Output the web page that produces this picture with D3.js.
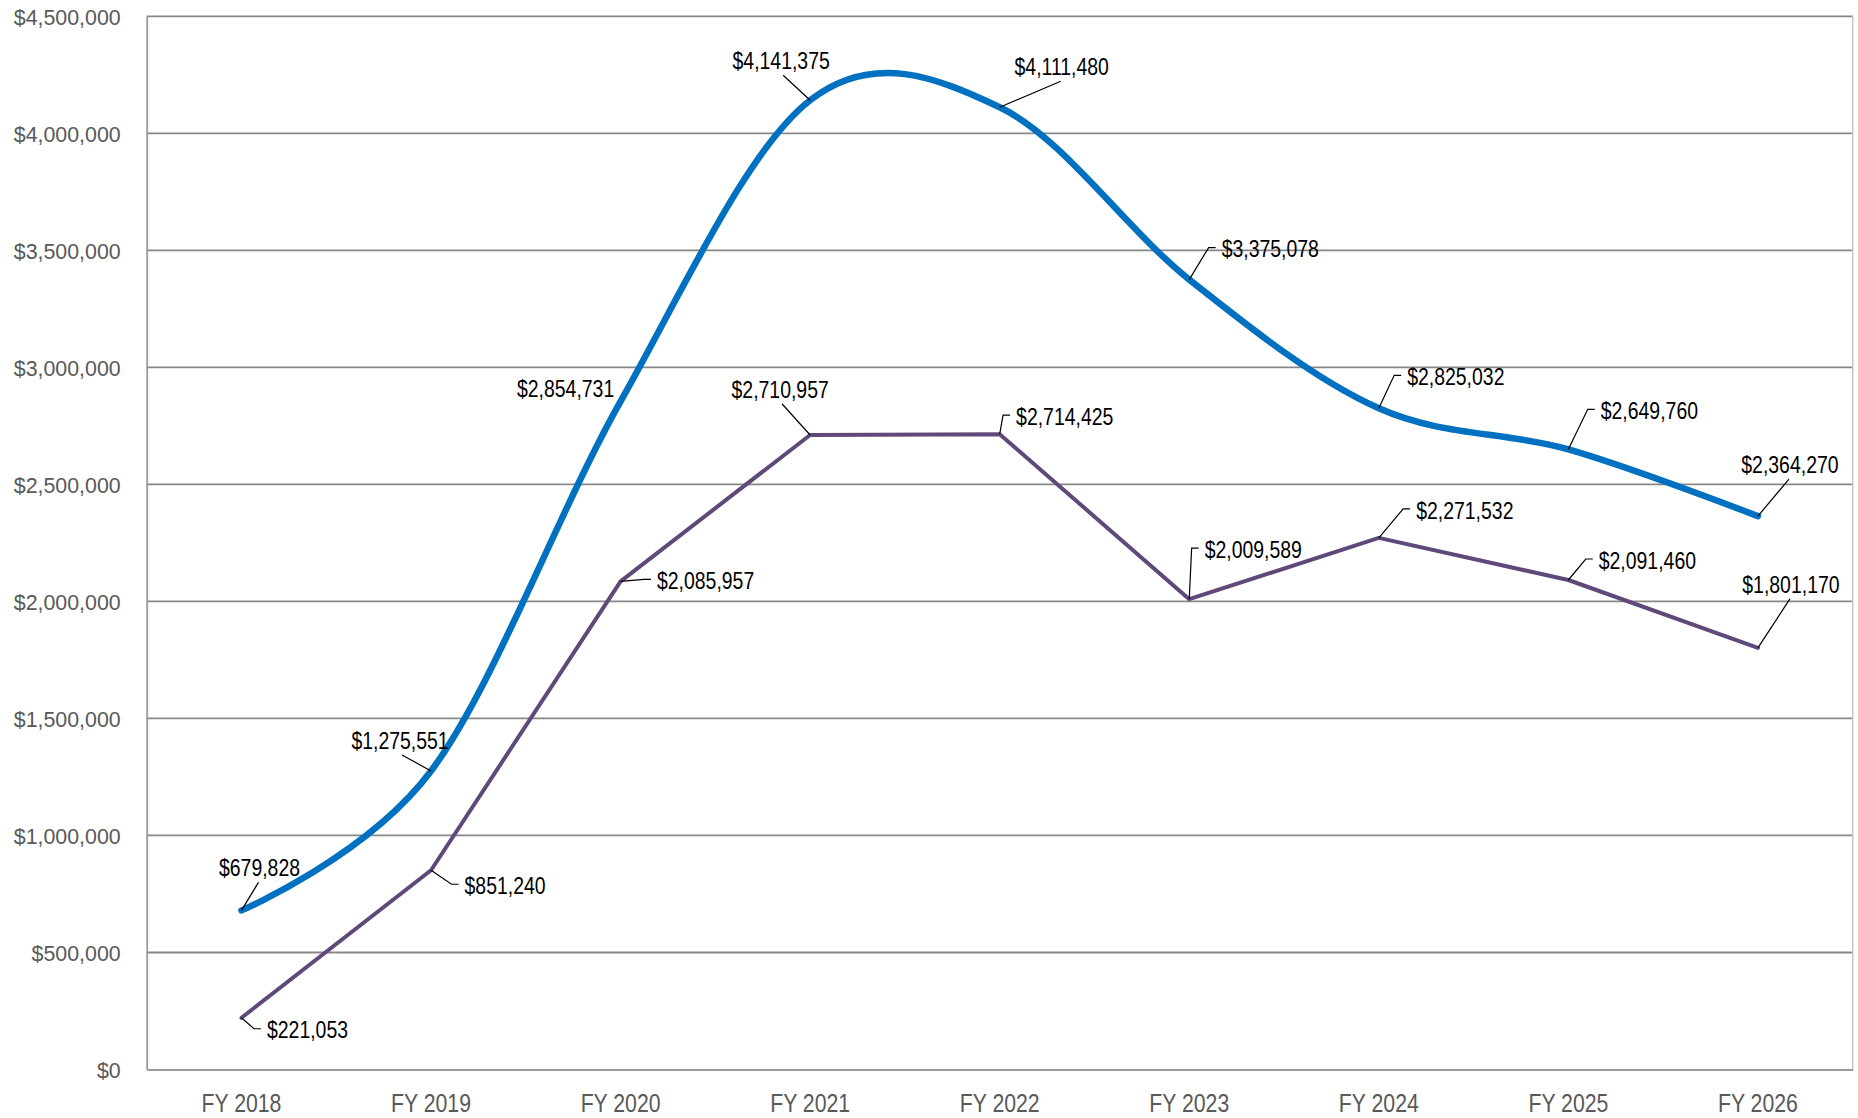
<!DOCTYPE html>
<html>
<head>
<meta charset="utf-8">
<script src="https://cdn.jsdelivr.net/npm/d3@7/dist/d3.min.js"></script>
<style>
  html, body { margin: 0; padding: 0; background: #fff; }
  svg { display: block; }
  text { font-family: "Liberation Sans", Arial, sans-serif; }
</style>
</head>
<body>
<svg id="chart" width="1858" height="1118"></svg>
<script>
// ---------- data ----------
const categories = ["FY 2018", "FY 2019", "FY 2020", "FY 2021", "FY 2022", "FY 2023", "FY 2024", "FY 2025", "FY 2026"];
const seriesTotal = [679828, 1275551, 2854731, 4141375, 4111480, 3375078, 2825032, 2649760, 2364270];
const seriesOther = [221053, 851240, 2085957, 2710957, 2714425, 2009589, 2271532, 2091460, 1801170];
const yTicks = [0, 500000, 1000000, 1500000, 2000000, 2500000, 3000000, 3500000, 4000000, 4500000];

// ---------- layout (label placement, in px relative to the data point) ----------
const totalLabelLayout = [
  { dx: 18, dy: -43, leader: "bottom" },
  { dx: -31, dy: -31, leader: "bottom" },
  { dx: -55, dy: -13, leader: "none" },
  { dx: -29, dy: -40, leader: "bottom" },
  { dx: 62, dy: -41, leader: "bottom" },
  { dx: 81, dy: -31, leader: "left" },
  { dx: 77, dy: -32, leader: "left" },
  { dx: 81, dy: -39, leader: "left" },
  { dx: 32, dy: -52, leader: "bottom" }
];
const otherLabelLayout = [
  { dx: 66, dy: 12, leader: "left" },
  { dx: 74, dy: 15, leader: "left" },
  { dx: 85, dy: -1, leader: "left" },
  { dx: -30, dy: -46, leader: "bottom" },
  { dx: 65, dy: -18, leader: "left" },
  { dx: 64, dy: -50, leader: "left" },
  { dx: 86, dy: -28, leader: "left" },
  { dx: 79, dy: -20, leader: "left" },
  { dx: 33, dy: -64, leader: "bottom" }
];

// ---------- chart ----------
const svg = d3.select("#chart");
const plot = { left: 146.7, right: 1852.7, top: 16.3, bottom: 1069.5 };

const x = d3.scaleBand().domain(categories).range([plot.left, plot.right]).paddingInner(0).paddingOuter(0);
const xc = c => x(c) + x.bandwidth() / 2;
const y = d3.scaleLinear().domain([0, 4500000]).range([plot.bottom, plot.top]);

const fmt = d3.format("$,.0f");

// gridlines
svg.append("g")
  .selectAll("line")
  .data(yTicks.filter(t => t > 0))
  .join("line")
  .attr("x1", plot.left).attr("x2", plot.right)
  .attr("y1", d => y(d)).attr("y2", d => y(d))
  .attr("stroke", "#878787").attr("stroke-width", 1.8);

// right border
svg.append("line")
  .attr("x1", plot.right).attr("x2", plot.right)
  .attr("y1", plot.top).attr("y2", plot.bottom)
  .attr("stroke", "#c4c4c4").attr("stroke-width", 1.5);

// y axis
const yAxis = d3.axisLeft(y).tickValues(yTicks).tickSize(0).tickPadding(26).tickFormat(fmt);
const gy = svg.append("g").attr("transform", `translate(${plot.left},0)`).call(yAxis);
gy.select(".domain").attr("stroke", "#9a9a9a").attr("stroke-width", 1.8);
gy.selectAll(".tick text")
  .attr("fill", "#595959")
  .attr("font-size", 23)
  .attr("dy", "0.36em")
  .attr("x", null)
  .attr("transform", "translate(-26,0) scale(0.93,1)");

// x axis
const xAxis = d3.axisBottom(x).tickSize(0).tickPadding(0);
const gx = svg.append("g").attr("transform", `translate(0,${plot.bottom})`).call(xAxis);
gx.select(".domain").attr("stroke", "#9a9a9a").attr("stroke-width", 1.8);
gx.selectAll(".tick text")
  .attr("fill", "#595959")
  .attr("font-size", 25)
  .attr("y", null).attr("dy", null)
  .attr("transform", "translate(0,42) scale(0.85,1)");

// lines
const totalLine = d3.line()
  .x((d, i) => xc(categories[i]))
  .y(d => y(d))
  .curve(d3.curveCatmullRom.alpha(0));
const otherLine = d3.line()
  .x((d, i) => xc(categories[i]))
  .y(d => y(d))
  .curve(d3.curveLinear);

svg.append("path")
  .datum(seriesOther)
  .attr("d", otherLine)
  .attr("fill", "none")
  .attr("stroke", "#5F497A")
  .attr("stroke-width", 4)
  .attr("stroke-linejoin", "round")
  .attr("stroke-linecap", "round");

svg.append("path")
  .datum(seriesTotal)
  .attr("d", totalLine)
  .attr("fill", "none")
  .attr("stroke", "#0070C0")
  .attr("stroke-width", 6.5)
  .attr("stroke-linejoin", "round")
  .attr("stroke-linecap", "round");

// data labels with leader lines
const labelScaleX = 0.81;
function drawLabels(values, layout) {
  const g = svg.append("g");
  values.forEach((v, i) => {
    const px = xc(categories[i]);
    const py = y(v);
    const L = layout[i];
    const cx = px + L.dx;
    const cy = py + L.dy;
    const t = g.append("text")
      .attr("transform", `translate(${cx},${cy}) scale(${labelScaleX},1)`)
      .attr("text-anchor", "middle")
      .attr("dy", "0.36em")
      .attr("font-size", 24)
      .attr("fill", "#000")
      .text(fmt(v));
    const w = t.node().getComputedTextLength() * labelScaleX;
    let pts = null;
    if (L.leader === "bottom") {
      pts = [[cx + (px > cx ? 2 : -1), cy + 15], [px, py]];
    } else if (L.leader === "left") {
      const lx = cx - w / 2 - 6;
      pts = [[lx, cy - 1], [lx - 7, cy - 1], [px, py]];
    }
    if (pts) {
      g.insert("path", "text")
        .attr("d", d3.line()(pts))
        .attr("fill", "none")
        .attr("stroke", "#000")
        .attr("stroke-width", 1.2);
    }
  });
}
drawLabels(seriesTotal, totalLabelLayout);
drawLabels(seriesOther, otherLabelLayout);
</script>
</body>
</html>
